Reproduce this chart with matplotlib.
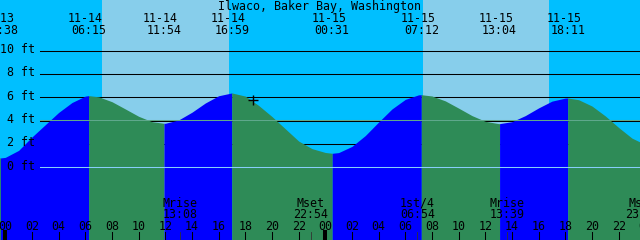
import numpy as np
import matplotlib
matplotlib.use("Agg")
import matplotlib.pyplot as plt
from matplotlib import transforms

# ---------------- data ----------------
title = "Ilwaco, Baker Bay, Washington"

# tide heights (hours since 11-14 00:00, feet)
hour_times = list(range(-1, 49))
hour_heights = [0.95,
                0.85, 1.45, 2.60, 3.65, 4.70, 5.55, 6.10, 6.04, 5.62, 5.00, 4.37, 3.91,
                3.77, 4.06, 4.72, 5.51, 6.13, 6.37, 6.10, 5.30, 4.35, 3.30, 2.25, 1.60,
                1.27, 1.26, 1.79, 2.72, 3.88, 5.00, 5.82, 6.21, 6.11, 5.69, 5.07, 4.43,
                3.94, 3.74, 3.91, 4.43, 5.09, 5.67, 5.93, 5.79, 5.25, 4.40, 3.41, 2.50,
                1.95]

# high / low tide events
extreme_times = [-0.367, 6.25, 11.90, 16.98, 24.52, 31.20, 37.07, 42.18]
extreme_heights = [0.80, 6.14, 3.77, 6.37, 1.20, 6.22, 3.74, 5.94]
extreme_dates = ["11-13", "11-14", "11-14", "11-14", "11-15", "11-15", "11-15", "11-15"]
extreme_clock = ["23:38", "06:15", "11:54", "16:59", "00:31", "07:12", "13:04", "18:11"]

# daylight periods (sunrise, sunset)
day_start = [7.25, 31.33]
day_end = [16.75, 40.75]

# moon events along the bottom
moon_times = [13.133, 22.90, 30.90, 37.65, 47.78]
moon_names = ["Mrise", "Mset", "1st/4", "Mrise", "Mset"]
moon_clock = ["13:08", "22:54", "06:54", "13:39", "23:47"]

# hour ticks
tick_hours = list(range(0, 49, 2))
tick_labels = ["%02d" % (h % 24) for h in tick_hours]

grid_levels = [0, 2, 4, 6, 8, 10]
grid_labels = ["0 ft", "2 ft", "4 ft", "6 ft", "8 ft", "10 ft"]
msl_level = 4.05

now_time, now_height = 18.58, 5.77

# ---------------- styling ----------------
NIGHT = "#00BFFF"
DAY = "#87CEEB"
RISE = "#0000FF"
FALL = "#2E8B57"
MSL_COLOR = "#5FA88C"
DATUM_COLOR = "#87CEFA"
FONT = dict(family="DejaVu Sans Mono", size=8.4, color="black")

W, H = 640, 240
px_per_hour = 320 / 24.0
x_mid = 5.3
px_per_ft = 11.67
y0ft = 167.3

fig = plt.figure(figsize=(6.4, 2.4), dpi=100)
fig.patch.set_facecolor(NIGHT)
ax = fig.add_axes([0, 0, 1, 1])
ax.set_axis_off()
ax.set_xlim(-x_mid / px_per_hour, (W - x_mid) / px_per_hour)
ax.set_ylim((y0ft - H) / px_per_ft, y0ft / px_per_ft)

# daylight
for a, b in zip(day_start, day_end):
    ax.axvspan(a, b, color=DAY, lw=0, zorder=0)

# grid lines (behind water)
gx0 = 39.5 / W
for lv in grid_levels:
    ax.axhline(lv, xmin=gx0, xmax=1, color="black", lw=0.75, zorder=1)

# water
t_all = np.array(hour_times + extreme_times, dtype=float)
h_all = np.array(hour_heights + extreme_heights, dtype=float)
order = np.argsort(t_all, kind="stable")
t_all, h_all = t_all[order], h_all[order]
bottom = ax.get_ylim()[0]
bounds = [t_all[0]] + extreme_times + [t_all[-1]]
for i in range(len(bounds) - 1):
    a, b = bounds[i], bounds[i + 1]
    m = (t_all >= a) & (t_all <= b)
    # segment before first extreme is falling; after a low it rises
    rising = (i % 2 == 1)
    ax.fill_between(t_all[m], h_all[m], bottom, color=RISE if rising else FALL,
                    lw=0, zorder=2)

# datum and mean lines drawn over water
ax.axhline(msl_level, xmin=gx0, xmax=1, color=MSL_COLOR, lw=0.75, zorder=3)
ax.axhline(0, xmin=gx0, xmax=1, color=DATUM_COLOR, lw=0.75, zorder=3)

# current-time mark
ax.plot([now_time], [now_height], marker="+", ms=7.5, mew=1.0, color="black", zorder=5)

# text helpers
bt = transforms.blended_transform_factory(ax.transData, fig.transFigure)
def fy(ypx):
    return 1 - ypx / H

fig.text(0.5, fy(10), title, ha="center", va="baseline", **FONT)

date_shift = transforms.ScaledTranslation(-3.5 / 100, 0, fig.dpi_scale_trans)
for t, d, c in zip(extreme_times, extreme_dates, extreme_clock):
    ax.text(t, fy(21.7), d, ha="center", va="baseline", transform=bt + date_shift, **FONT)
    ax.text(t, fy(34), c, ha="center", va="baseline", transform=bt, **FONT)

# ft labels
for lv, lab in zip(grid_levels, grid_labels):
    ypx = y0ft - lv * px_per_ft
    fig.text(35 / W, fy(ypx + 2.5), lab, ha="right", va="baseline", **FONT)

# bottom ticks
tick_top = 8.5 / H
for h in tick_hours:
    lw = 2.9 if h % 24 == 0 else 0.75
    ax.axvline(h, ymin=0, ymax=tick_top, color="black", lw=lw, zorder=6)
for t in moon_times:
    ax.axvline(t, ymin=0, ymax=tick_top, color="#333333", lw=0.6, zorder=6)

for h, lab in zip(tick_hours, tick_labels):
    ax.text(h, fy(230), lab, ha="center", va="baseline", transform=bt, **FONT)

for t, n, c in zip(moon_times, moon_names, moon_clock):
    ax.text(t, fy(206.7), n, ha="center", va="baseline", transform=bt, **FONT)
    ax.text(t, fy(217.7), c, ha="center", va="baseline", transform=bt, **FONT)

fig.savefig("out.png", dpi=100, facecolor=fig.get_facecolor())
